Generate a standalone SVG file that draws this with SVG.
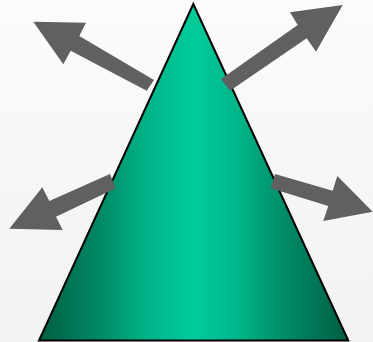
<svg xmlns="http://www.w3.org/2000/svg" width="373" height="342" viewBox="0 0 373 342">
  <defs>
    <linearGradient id="bg" x1="0" y1="0" x2="0" y2="1">
      <stop offset="0" stop-color="#fbfbfb"/>
      <stop offset="1" stop-color="#f2f2f2"/>
    </linearGradient>
    <linearGradient id="green" gradientUnits="userSpaceOnUse" x1="39" y1="0" x2="348" y2="0">
      <stop offset="0" stop-color="#005e42"/>
      <stop offset="0.2" stop-color="#008a66"/>
      <stop offset="0.35" stop-color="#00b488"/>
      <stop offset="0.5" stop-color="#00cc99"/>
      <stop offset="0.65" stop-color="#00b488"/>
      <stop offset="0.8" stop-color="#008a66"/>
      <stop offset="1" stop-color="#005e42"/>
    </linearGradient>
    <style>
      .arrow { fill: #606060; }
      .tri { fill: url(#green); stroke: #000; stroke-width: 2; stroke-linejoin: miter; }
    </style>
  </defs>
  <rect x="0" y="0" width="373" height="342" fill="url(#bg)"/>
  <g id="triangle">
    <polygon class="tri" points="193.3,4 39,340.5 348.3,340.5"/>
  </g>
  <g id="arrows">
    <polygon id="arrow-top-left" class="arrow" points="154,80 79.3,36 86,22.7 33.3,21.7 63.3,64.3 70.7,50.7 146.7,90.7"/>
    <polygon id="arrow-top-right" class="arrow" points="221,79 297.7,25 290,12.3 342.7,5 316,51.7 306.7,38.3 230,90.7"/>
    <polygon id="arrow-bottom-left" class="arrow" points="110,174 49.3,201 42.3,187.3 9.3,228.7 62.7,230 56,216.7 115.7,188.3"/>
    <polygon id="arrow-bottom-right" class="arrow" points="275,174 332.7,190.7 337.3,176 372.7,211.7 323.3,221 328.3,206 270.7,188.3"/>
  </g>
</svg>
